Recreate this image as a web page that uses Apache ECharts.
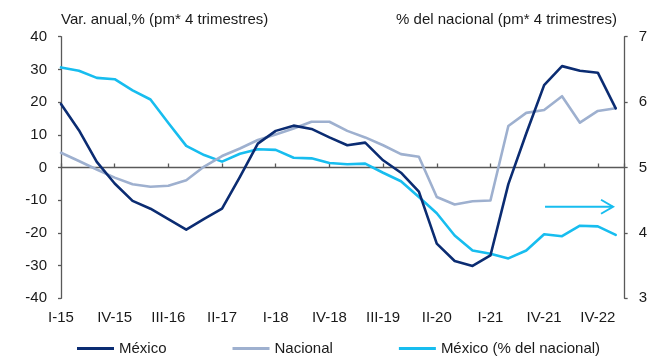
<!DOCTYPE html>
<html>
<head>
<meta charset="utf-8">
<script src="https://cdn.jsdelivr.net/npm/echarts@6/dist/echarts.min.js"></script>
<style>
html,body{margin:0;padding:0;background:#fff;}
#chart{width:650px;height:358px;}
</style>
</head>
<body>
<div id="chart"></div>
<script>
// Quarters I-15 ... IV-22
var categories = [
  'I-15','II-15','III-15','IV-15','I-16','II-16','III-16','IV-16',
  'I-17','II-17','III-17','IV-17','I-18','II-18','III-18','IV-18',
  'I-19','II-19','III-19','IV-19','I-20','II-20','III-20','IV-20',
  'I-21','II-21','III-21','IV-21','I-22','II-22','III-22','IV-22'
];
// Tick labels shown every 3 quarters (as printed on the reference)
var tickLabels = ['I-15','IV-15','III-16','II-17','I-18','IV-18','III-19','II-20','I-21','IV-21','IV-22'];

var mexico = [19.4, 11.4, 1.7, -4.9, -10.2, -12.6, -15.8, -19.0, -15.7, -12.6, -2.9, 7.3,
              11.2, 12.8, 11.8, 9.2, 6.8, 7.6, 2.2, -1.6, -7.4, -23.3, -28.6, -30.1,
              -26.9, -5.1, 10.4, 25.2, 31.0, 29.6, 29.0, 18.1];
var nacional = [4.5, 2.0, -0.6, -3.1, -5.1, -5.9, -5.6, -3.9, 0.3, 3.5, 5.8, 8.4,
                10.1, 11.9, 14.0, 14.0, 11.2, 9.2, 6.8, 4.1, 3.3, -9.0, -11.3, -10.3,
                -10.1, 12.7, 16.7, 17.6, 21.8, 13.7, 17.3, 18.1];
var pctNacional = [6.53, 6.48, 6.37, 6.35, 6.18, 6.04, 5.68, 5.33, 5.19, 5.09, 5.21, 5.28,
                   5.27, 5.15, 5.14, 5.07, 5.05, 5.06, 4.92, 4.79, 4.55, 4.30, 3.96, 3.73,
                   3.68, 3.61, 3.73, 3.98, 3.95, 4.11, 4.10, 3.97];
var seriesNames = ['México', 'Nacional', 'México (% del nacional)'];
var leftTitle = 'Var. anual,% (pm* 4 trimestres)';
var rightTitle = '% del nacional (pm* 4 trimestres)';
// annotation arrow: points to the right axis at this level
var arrowLevel = 4.4;
var arrowFrom = 27.05, arrowTo = 30.85;

var colors = ['#0b2c72', '#9eb0cf', '#17bdef'];
var axisColor = '#595959';
var textColor = '#1a1a1a';
var FONT = 'Liberation Sans, Arial, sans-serif';

function pairs(arr){ return arr.map(function(v,i){ return [i, v]; }); }

var chart = echarts.init(document.getElementById('chart'), null, {renderer:'canvas'});
var option = {
  animation: false,
  textStyle: {fontFamily: FONT},
  title: [
    {text: leftTitle, left: 61, top: 12, padding: 0,
     textStyle: {fontSize: 15, fontWeight: 'normal', color: textColor, fontFamily: FONT}},
    {text: rightTitle, right: 33, top: 12, padding: 0,
     textStyle: {fontSize: 15, fontWeight: 'normal', color: textColor, fontFamily: FONT}}
  ],
  grid: {left: 61, right: 24.3, top: 36.7, bottom: 59.7, containLabel: false},
  legend: {
    left: 77, top: 341, padding: 0, itemGap: 66, itemWidth: 37, itemHeight: 3, icon: 'rect',
    textStyle: {fontSize: 15, color: textColor, fontFamily: FONT},
    data: seriesNames
  },
  xAxis: [
    {
      type: 'value', min: 0, max: 31.5, interval: 3, position: 'bottom',
      axisLine: {show: false, onZero: false},
      axisTick: {show: false},
      splitLine: {show: false},
      axisLabel: {
        margin: 12, fontSize: 15, color: textColor, fontFamily: FONT,
        showMaxLabel: false,
        formatter: function(v){
          if (v % 3 !== 0) return '';
          var k = v / 3;
          return tickLabels[k] || '';
        }
      }
    },
    {
      type: 'value', min: 0, max: 31.5, interval: 3, position: 'top',
      axisLine: {show: true, onZero: true, onZeroAxisIndex: 0, lineStyle: {color: axisColor, width: 1.3}},
      axisTick: {show: true, inside: false, length: 4, lineStyle: {color: axisColor, width: 1.3}},
      axisLabel: {show: false},
      splitLine: {show: false}
    }
  ],
  yAxis: [
    {
      type: 'value', position: 'left', min: -40, max: 40, interval: 10,
      axisLine: {show: true, onZero: false, lineStyle: {color: axisColor, width: 1.3}},
      axisTick: {show: true, inside: false, length: 3, lineStyle: {color: axisColor, width: 1.3}},
      axisLabel: {margin: 14, fontSize: 15, color: textColor, fontFamily: FONT},
      splitLine: {show: false}
    },
    {
      type: 'value', position: 'right', min: 3, max: 7, interval: 1,
      axisLine: {show: true, onZero: false, lineStyle: {color: axisColor, width: 1.3}},
      axisTick: {show: true, inside: false, length: 3, lineStyle: {color: axisColor, width: 1.3}},
      axisLabel: {margin: 14, fontSize: 15, color: textColor, fontFamily: FONT},
      splitLine: {show: false}
    }
  ],
  series: [
    {name: seriesNames[0], type: 'line', xAxisIndex: 0, yAxisIndex: 0, data: pairs(mexico),
     symbol: 'none', lineStyle: {color: colors[0], width: 2.6, cap: 'round', join: 'round'},
     itemStyle: {color: colors[0]}, z: 4},
    {name: seriesNames[1], type: 'line', xAxisIndex: 0, yAxisIndex: 0, data: pairs(nacional),
     symbol: 'none', lineStyle: {color: colors[1], width: 2.6, cap: 'round', join: 'round'},
     itemStyle: {color: colors[1]}, z: 3},
    {name: seriesNames[2], type: 'line', xAxisIndex: 0, yAxisIndex: 1, data: pairs(pctNacional),
     symbol: 'none', lineStyle: {color: colors[2], width: 2.6, cap: 'round', join: 'round'},
     itemStyle: {color: colors[2]}, z: 2}
  ]
};
chart.setOption(option);

// arrow annotation placed through the chart's own scales
var p1 = chart.convertToPixel({seriesIndex: 2}, [arrowFrom, arrowLevel]);
var p2 = chart.convertToPixel({seriesIndex: 2}, [arrowTo, arrowLevel]);
chart.setOption({
  graphic: [
    {type: 'line', shape: {x1: p1[0], y1: p1[1], x2: p2[0], y2: p2[1]},
     style: {stroke: colors[2], lineWidth: 2}, z: 10},
    {type: 'polyline', shape: {points: [[p2[0]-12, p2[1]-7], [p2[0], p2[1]], [p2[0]-12, p2[1]+7]]},
     style: {stroke: colors[2], lineWidth: 2, fill: null}, z: 10}
  ]
});
</script>
</body>
</html>
